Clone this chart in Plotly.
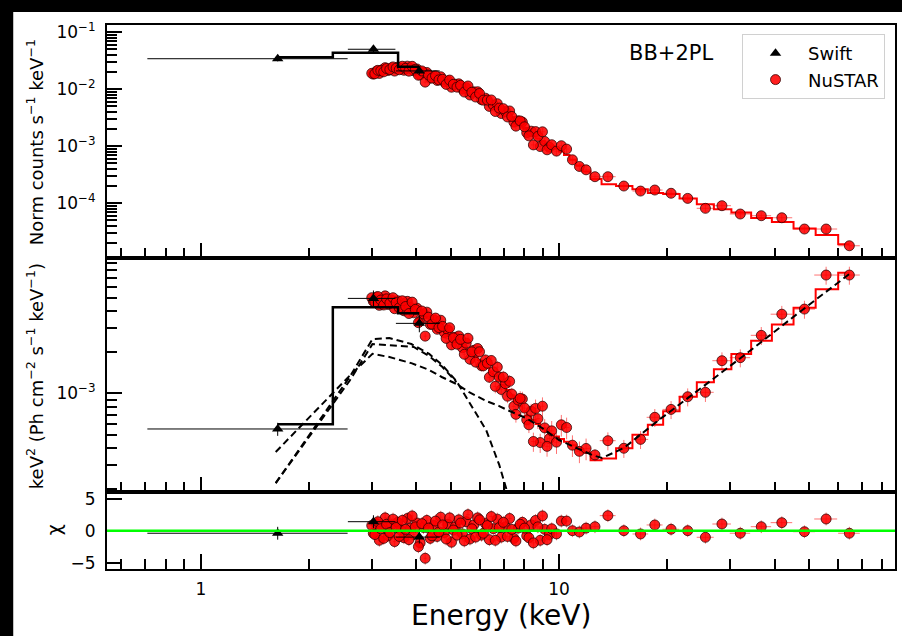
import math
import plotly.graph_objects as go
from plotly.subplots import make_subplots

# ---------------- Swift / XRT ----------------
swift_e = [1.639, 3.033, 4.074]
swift_de = [0.93, 0.46, 0.57]
swift_cts = [0.0344, 0.0504, 0.0210]
swift_cts_err = [0.0035, 0.0060, 0.0030]
swift_cts_mod = [0.0364, 0.0438, 0.0249]
swift_unf = [5.49e-4, 4.93e-3, 3.24e-3]
swift_unf_err = [6.0e-5, 7.0e-4, 4.5e-4]
swift_unf_mod = [5.94e-4, 4.25e-3, 3.84e-3]
swift_chi = [-0.4, 1.4, -1.0]

# ---------------- NuSTAR FPMA (with model) ----------------
nu_e = [3.00, 3.06, 3.12, 3.18, 3.24, 3.30, 3.37, 3.44, 3.51, 3.58,
        3.65, 3.73, 3.81, 3.89, 3.97, 4.05, 4.14, 4.23, 4.32, 4.42,
        4.52, 4.62, 4.73, 4.84, 4.95, 5.07, 5.19, 5.31, 5.44, 5.57,
        5.71, 5.85, 6.00, 6.15, 6.31, 6.47, 6.64, 6.81, 6.99, 7.18,
        7.38, 7.58, 7.79, 8.01, 8.24, 8.48, 8.73, 8.99, 9.26, 9.54,
        9.84, 10.15, 10.5, 10.9, 11.4, 11.9,
        12.6, 13.69, 15.17, 16.89, 18.51, 20.55, 22.87, 25.63, 28.5, 32.07,
        36.7, 41.88, 48.44, 55.68, 64.66]
nu_de = [0.03, 0.03, 0.03, 0.03, 0.03, 0.03, 0.035, 0.035, 0.035, 0.035,
         0.04, 0.04, 0.04, 0.04, 0.04, 0.045, 0.045, 0.045, 0.045, 0.05,
         0.05, 0.05, 0.055, 0.055, 0.055, 0.06, 0.06, 0.065, 0.065, 0.07,
         0.07, 0.075, 0.075, 0.08, 0.08, 0.085, 0.085, 0.09, 0.09, 0.1,
         0.1, 0.105, 0.105, 0.115, 0.115, 0.125, 0.125, 0.135, 0.135, 0.15,
         0.15, 0.17, 0.19, 0.22, 0.25, 0.3,
         0.35, 0.7, 0.8, 0.85, 0.95, 1.1, 1.3, 1.4, 1.7, 2.1,
         2.4, 2.9, 3.4, 4.1, 4.5]
nu_relerr = [
    0.05, 0.05, 0.05, 0.05, 0.05, 0.05, 0.05, 0.05, 0.05, 0.05,
    0.06, 0.06, 0.06, 0.06, 0.06, 0.06, 0.06, 0.06, 0.06, 0.06,
    0.07, 0.07, 0.07, 0.07, 0.07, 0.07, 0.07, 0.07, 0.07, 0.09,
    0.09, 0.09, 0.09, 0.09, 0.09, 0.09, 0.11, 0.11, 0.11, 0.11,
    0.11, 0.13, 0.13, 0.13, 0.13, 0.16, 0.16, 0.16, 0.16, 0.18,
    0.18, 0.18, 0.18, 0.18, 0.18, 0.18,
    0.10, 0.15, 0.15, 0.15, 0.15, 0.15, 0.15, 0.15, 0.15, 0.15,
    0.15, 0.15, 0.15, 0.15, 0.15]

# normalised counts s^-1 keV^-1
nu_cts = [0.01906, 0.01874, 0.02152, 0.02125, 0.02025, 0.02317, 0.02218, 0.02474, 0.02345, 0.02203,
          0.02539, 0.02335, 0.02079, 0.02532, 0.02241, 0.01765, 0.02101, 0.01336, 0.01789, 0.01571,
          0.01730, 0.01464, 0.01498, 0.01220, 0.01452, 0.01222, 0.01091, 0.01175, 0.00895, 0.01144,
          0.00888, 0.00732, 0.00845, 0.00644, 0.00647, 0.00651, 0.00408, 0.00468, 0.00458, 0.00327,
          0.00334, 0.002257, 0.002791, 0.00220, 0.001525, 0.001058, 0.001496, 0.001797, 0.000868, 0.001067,
          0.000823, 0.001025, 0.000894, 0.000580, 0.000443, 0.000387,
          2.93e-4, 2.93e-4, 2.01e-4, 1.64e-4, 1.71e-4, 1.50e-4, 1.22e-4, 8.17e-5, 9.08e-5, 6.49e-5,
          6.06e-5, 5.58e-5, 3.54e-5, 3.54e-5, 1.80e-5]
nu_cts_mod = [0.01833, 0.01932, 0.02011, 0.02094, 0.02154, 0.02207, 0.02252, 0.02270, 0.02288, 0.02307,
              0.02317, 0.02307, 0.02270, 0.02225, 0.02163, 0.02077, 0.01971, 0.01855, 0.01747, 0.01650,
              0.01566, 0.01485, 0.01409, 0.01342, 0.01274, 0.01214, 0.01147, 0.01084, 0.01008, 0.00934,
              0.00865, 0.00804, 0.00733, 0.00668, 0.00604, 0.00543, 0.00489, 0.00444, 0.00401, 0.00363,
              0.00327, 0.00285, 0.00247, 0.00209, 0.00178, 0.00152, 0.001365, 0.001239, 0.001119, 0.001012,
              0.000904, 0.000807, 0.000704, 0.000580, 0.000460, 0.000361,
              2.68e-4, 2.17e-4, 2.01e-4, 1.77e-4, 1.51e-4, 1.45e-4, 1.22e-4, 9.66e-5, 7.85e-5, 6.90e-5,
              5.54e-5, 4.69e-5, 3.63e-5, 2.79e-5, 1.91e-5]

# unfolded keV^2 (photons cm^-2 s^-1 keV^-1)
nu_unf = [4.989e-3, 4.637e-3, 5.090e-3, 4.796e-3, 4.411e-3, 4.895e-3, 4.546e-3, 4.988e-3, 4.597e-3, 4.212e-3,
          4.738e-3, 4.302e-3, 3.822e-3, 4.631e-3, 4.097e-3, 3.278e-3, 3.988e-3, 2.614e-3, 3.594e-3, 3.193e-3,
          3.542e-3, 3.015e-3, 3.079e-3, 2.517e-3, 3.012e-3, 2.539e-3, 2.283e-3, 2.478e-3, 1.927e-3, 2.524e-3,
          2.008e-3, 1.689e-3, 2.011e-3, 1.586e-3, 1.657e-3, 1.737e-3, 1.124e-3, 1.315e-3, 1.314e-3, 9.52e-4,
          9.88e-4, 7.02e-4, 9.18e-4, 7.80e-4, 5.89e-4, 4.45e-4, 6.53e-4, 8.05e-4, 4.10e-4, 5.32e-4,
          4.40e-4, 5.89e-4, 5.63e-4, 4.18e-4, 3.77e-4, 3.96e-4,
          3.55e-4, 4.51e-4, 3.97e-4, 4.61e-4, 6.68e-4, 7.63e-4, 9.44e-4, 1.017e-3, 1.73e-3, 1.82e-3,
          2.65e-3, 3.78e-3, 4.12e-3, 7.30e-3, 7.30e-3]
nu_unf_mod = [4.797e-3, 4.780e-3, 4.757e-3, 4.725e-3, 4.693e-3, 4.662e-3, 4.615e-3, 4.576e-3, 4.485e-3, 4.410e-3,
              4.323e-3, 4.251e-3, 4.173e-3, 4.069e-3, 3.955e-3, 3.856e-3, 3.741e-3, 3.630e-3, 3.510e-3, 3.354e-3,
              3.205e-3, 3.058e-3, 2.897e-3, 2.769e-3, 2.642e-3, 2.521e-3, 2.401e-3, 2.286e-3, 2.170e-3, 2.060e-3,
              1.955e-3, 1.856e-3, 1.744e-3, 1.645e-3, 1.546e-3, 1.450e-3, 1.346e-3, 1.246e-3, 1.150e-3, 1.057e-3,
              9.67e-4, 8.86e-4, 8.12e-4, 7.41e-4, 6.87e-4, 6.39e-4, 5.96e-4, 5.55e-4, 5.29e-4, 5.05e-4,
              4.84e-4, 4.64e-4, 4.43e-4, 4.18e-4, 3.91e-4, 3.69e-4,
              3.25e-4, 3.34e-4, 3.97e-4, 4.99e-4, 5.89e-4, 7.39e-4, 9.44e-4, 1.202e-3, 1.497e-3, 1.936e-3,
              2.42e-3, 3.18e-3, 4.22e-3, 5.75e-3, 7.60e-3]

nu_chi = [0.8, -0.6, 1.4, 0.3, -1.2, 1.0, -0.3, 1.8, 0.5, -0.9,
          1.6, 0.2, -1.4, 2.3, 0.6, -2.5, 1.1, -4.3, 0.4, -0.8,
          1.5, -0.2, 0.9, -1.3, 2.0, 0.1, -0.7, 1.2, -1.6, 2.5,
          0.3, -1.0, 1.7, -0.4, 0.8, 2.2, -1.5, 0.5, 1.3, -0.9,
          0.2, -1.6, 1.0, 0.4, -1.1, -1.9, 0.6, 2.3, -1.4, 0.3,
          -0.5, 1.5, 1.5, 0.0, -0.2, 0.4,
          0.62, 2.34, 0.0, -0.51, 0.89, 0.22, 0.0, -1.03, 1.04, -0.4,
          0.62, 1.25, -0.16, 1.82, -0.4]

# ---------------- NuSTAR FPMB (soft band) ----------------
nb_e = [3.03, 3.09, 3.15, 3.21, 3.27, 3.335, 3.405, 3.475, 3.545, 3.615,
        3.69, 3.77, 3.85, 3.93, 4.01, 4.095, 4.185, 4.275, 4.37, 4.47,
        4.57, 4.675, 4.785, 4.895, 5.01, 5.13, 5.25, 5.375, 5.505, 5.64,
        5.78, 5.925, 6.075, 6.23, 6.39, 6.555, 6.725, 6.9, 7.085, 7.28,
        7.48, 7.685, 7.9, 8.125, 8.36, 8.6, 8.86, 9.12, 9.4]
nb_de = [0.03, 0.03, 0.03, 0.03, 0.03, 0.035, 0.035, 0.035, 0.035, 0.035,
         0.04, 0.04, 0.04, 0.04, 0.04, 0.045, 0.045, 0.045, 0.05, 0.05,
         0.05, 0.055, 0.055, 0.055, 0.06, 0.06, 0.06, 0.065, 0.065, 0.07,
         0.07, 0.075, 0.075, 0.08, 0.08, 0.085, 0.085, 0.09, 0.095, 0.1,
         0.1, 0.105, 0.11, 0.115, 0.12, 0.125, 0.13, 0.135, 0.14]
nb_relerr = [0.05, 0.05, 0.05, 0.05, 0.05, 0.05, 0.05, 0.05, 0.05, 0.05,
             0.06, 0.06, 0.06, 0.06, 0.06, 0.06, 0.06, 0.06, 0.06, 0.06,
             0.07, 0.07, 0.07, 0.07, 0.07, 0.07, 0.07, 0.07, 0.07, 0.09,
             0.09, 0.09, 0.09, 0.09, 0.09, 0.09, 0.11, 0.11, 0.11, 0.11,
             0.11, 0.13, 0.13, 0.13, 0.13, 0.16, 0.16, 0.16, 0.16]
nb_cts = [0.01845, 0.0208, 0.01899, 0.02198, 0.02399, 0.0214, 0.02363, 0.02085, 0.02447, 0.02324,
          0.02159, 0.02549, 0.02301, 0.02115, 0.02273, 0.01793, 0.0197, 0.01974, 0.01576, 0.01685,
          0.01429, 0.0166, 0.01347, 0.0140, 0.01087, 0.0123, 0.01248, 0.01009, 0.01066, 0.007943,
          0.009021, 0.009068, 0.006564, 0.00699, 0.005012, 0.005299, 0.005589, 0.00376, 0.004072, 0.004171,
          0.002656, 0.002798, 0.002665, 0.001734, 0.001843, 0.001812, 0.00099, 0.001217, 0.000963]
nb_unf = [4.693e-3, 5.031e-3, 4.386e-3, 4.874e-3, 5.145e-3, 4.453e-3, 4.802e-3, 4.145e-3, 4.737e-3, 4.388e-3,
          4.004e-3, 4.692e-3, 4.220e-3, 3.868e-3, 4.187e-3, 3.365e-3, 3.796e-3, 3.913e-3, 3.185e-3, 3.437e-3,
          2.934e-3, 3.415e-3, 2.774e-3, 2.895e-3, 2.256e-3, 2.564e-3, 2.622e-3, 2.150e-3, 2.322e-3, 1.773e-3,
          2.060e-3, 2.124e-3, 1.588e-3, 1.753e-3, 1.309e-3, 1.436e-3, 1.553e-3, 1.066e-3, 1.176e-3, 1.223e-3,
          8.04e-4, 8.93e-4, 9.08e-4, 6.40e-4, 7.41e-4, 7.76e-4, 4.37e-4, 5.59e-4, 4.67e-4]
nb_chi = [-0.4, 1.1, -1.5, 0.7, 2.0, -0.8, 0.9, -1.7, 1.3, 0.1,
          -1.1, 1.9, 0.4, -0.6, 1.2, -1.9, 0.5, 1.6, -1.2, 0.8,
          -0.9, 2.1, -0.3, 1.0, -1.8, 0.6, 1.7, -0.5, 1.4, -1.3,
          0.9, 2.0, -0.7, 1.1, -1.4, 0.3, 1.8, -1.0, 0.6, 1.9,
          -1.2, 0.4, 1.3, -0.8, 0.9, 1.6, -1.5, 0.2, -0.6]

# ---------------- model components (unfolded) ----------------
bb_e = [1.618, 1.887, 2.215, 2.60, 3.014, 3.36, 3.87, 4.34, 4.72, 5.17, 5.61, 6.26, 6.81, 7.17, 7.74]
bb_val = [2.21e-4, 3.92e-4, 7.18e-4, 1.31e-3, 2.49e-3, 2.53e-3, 2.29e-3, 1.94e-3, 1.61e-3, 1.23e-3,
          8.64e-4, 5.39e-4, 3.00e-4, 1.90e-4, 7.8e-5]
cut_e = [1.618, 1.887, 2.215, 2.60, 3.014, 3.40, 3.93, 4.34, 4.72, 5.17]
cut_val = [2.21e-4, 3.85e-4, 6.83e-4, 1.23e-3, 2.29e-3, 2.25e-3, 2.18e-3, 1.87e-3, 1.56e-3, 1.21e-3]
pl_e = [1.618, 1.887, 2.215, 2.60, 3.014, 3.36, 3.87, 4.34, 4.72, 5.17, 5.61, 6.26, 6.81,
        7.17, 8.09, 8.97, 10.0, 11.15, 12.36, 13.18, 15.17, 19.0, 24.55, 33.8, 46.6, 64.66]
pl_val = [3.73e-4, 5.67e-4, 8.79e-4, 1.34e-3, 1.94e-3, 1.84e-3, 1.66e-3, 1.48e-3, 1.31e-3, 1.17e-3,
          1.02e-3, 8.79e-4, 8.07e-4, 7.55e-4, 6.60e-4, 5.58e-4, 4.56e-4, 3.99e-4, 3.55e-4, 3.37e-4,
          3.99e-4, 6.38e-4, 1.057e-3, 2.00e-3, 3.86e-3, 7.43e-3]

FONT = "DejaVu Sans"
RED = "#ff0000"


def steps_mid(x, y):
    """Step line changing level half-way between neighbouring bins."""
    xs, ys = [x[0]], [y[0]]
    for i in range(1, len(x)):
        m = 0.5 * (x[i - 1] + x[i])
        xs += [m, m]
        ys += [y[i - 1], y[i]]
    xs.append(x[-1])
    ys.append(y[-1])
    return xs, ys


def rel_err(vals, rel):
    return [v * r for v, r in zip(vals, rel)]


fig = make_subplots(rows=3, cols=1, shared_xaxes=True, vertical_spacing=0)

nu_marker = dict(symbol="circle", size=10, color="rgba(255,0,0,0.88)",
                 line=dict(color="rgba(40,0,0,0.75)", width=1))
sw_marker = dict(symbol="triangle-up", size=10, color="black")
ERR_RED = "rgba(255,0,0,0.55)"


def xerr(arr, color):
    return dict(type="data", array=arr, color=color, thickness=1, width=0)


def yerr(arr, color):
    return dict(type="data", array=arr, color=color, thickness=1, width=0)


panels = [
    (1, nu_cts, nu_cts_mod, nb_cts, swift_cts, swift_cts_err, swift_cts_mod),
    (2, nu_unf, nu_unf_mod, nb_unf, swift_unf, swift_unf_err, swift_unf_mod),
]
for row, ny, nmod, by, sy, syerr, smod in panels:
    sx, sy_step = steps_mid(nu_e, nmod)
    fig.add_trace(go.Scatter(x=sx, y=sy_step, mode="lines", line=dict(color=RED, width=2),
                             showlegend=False, hoverinfo="skip"), row=row, col=1)
    fig.add_trace(go.Scatter(x=nb_e, y=by, mode="markers", marker=nu_marker,
                             error_x=xerr(nb_de, ERR_RED), error_y=yerr(rel_err(by, nb_relerr), ERR_RED),
                             showlegend=False), row=row, col=1)
    fig.add_trace(go.Scatter(x=nu_e, y=ny, mode="markers", marker=nu_marker,
                             error_x=xerr(nu_de, ERR_RED), error_y=yerr(rel_err(ny, nu_relerr), ERR_RED),
                             showlegend=False), row=row, col=1)
    if row == 2:
        for ce, cv in ((bb_e, bb_val), (cut_e, cut_val), (pl_e, pl_val)):
            fig.add_trace(go.Scatter(x=ce, y=cv, mode="lines",
                                     line=dict(color="black", width=2, dash="7px,4px"),
                                     showlegend=False, hoverinfo="skip"), row=row, col=1)
    wx, wy = steps_mid(swift_e, smod)
    fig.add_trace(go.Scatter(x=wx, y=wy, mode="lines", line=dict(color="black", width=2.5),
                             showlegend=False, hoverinfo="skip"), row=row, col=1)
    fig.add_trace(go.Scatter(x=swift_e, y=sy, mode="markers", marker=sw_marker, name="Swift",
                             error_x=xerr(swift_de, "black"), error_y=yerr(syerr, "black"),
                             showlegend=(row == 1)), row=row, col=1)
    if row == 1:
        fig.add_trace(go.Scatter(x=[None], y=[None], mode="markers", marker=nu_marker,
                                 name="NuSTAR", showlegend=True), row=1, col=1)

# residuals
for ex, ey, ed in ((nb_e, nb_chi, nb_de), (nu_e, nu_chi, nu_de)):
    fig.add_trace(go.Scatter(x=ex, y=ey, mode="markers", marker=nu_marker, showlegend=False,
                             error_x=xerr(ed, ERR_RED),
                             error_y=dict(type="constant", value=1, color=ERR_RED, thickness=1, width=0)),
                  row=3, col=1)
fig.add_trace(go.Scatter(x=swift_e, y=swift_chi, mode="markers", marker=sw_marker, showlegend=False,
                         error_x=xerr(swift_de, "black"),
                         error_y=dict(type="constant", value=1, color="black", thickness=1, width=0)),
              row=3, col=1)
fig.add_hline(y=0, line=dict(color="#00ff00", width=2.5), row=3, col=1)

# ---------------- axes ----------------
axis_style = dict(showline=True, linecolor="black", linewidth=2, mirror=True,
                  ticks="inside", ticklen=15, tickwidth=1.5, tickcolor="black",
                  showgrid=False, zeroline=False,
                  tickfont=dict(family=FONT, size=17, color="black"))
x_minor = [0.6, 0.7, 0.8, 0.9] + list(range(2, 10)) + list(range(20, 90, 10))
for i, name in enumerate(["xaxis", "xaxis2", "xaxis3"]):
    fig.layout[name].update(type="log", range=[math.log10(0.547), math.log10(86.7)],
                            tickvals=[1, 10], ticktext=["1", "10"],
                            showticklabels=(i == 2), ticklabelstandoff=4,
                            minor=dict(ticks="inside", ticklen=10, tickwidth=1.5,
                                       tickcolor="black", tickvals=x_minor, showgrid=False),
                            **axis_style)

y1_minor = [m * 10.0 ** e for e in range(-5, -1) for m in range(2, 10)]
fig.layout.yaxis.update(type="log", range=[-4.965, -0.872], domain=[0.5711, 1.0],
                        tickvals=[1e-4, 1e-3, 1e-2, 1e-1],
                        ticktext=["10<sup>−4</sup>", "10<sup>−3</sup>", "10<sup>−2</sup>", "10<sup>−1</sup>"],
                        minor=dict(ticks="inside", ticklen=10, tickwidth=1.5, tickcolor="black",
                                   tickvals=y1_minor, showgrid=False),
                        ticklabelstandoff=6, **axis_style)
y2_minor = [m * 10.0 ** e for e in (-4, -3) for m in range(2, 10)]
fig.layout.yaxis2.update(type="log", range=[-3.7226, -2.0146], domain=[0.141, 0.5711],
                         tickvals=[1e-3], ticktext=["10<sup>−3</sup>"],
                         minor=dict(ticks="inside", ticklen=10, tickwidth=1.5, tickcolor="black",
                                    tickvals=y2_minor, showgrid=False),
                         ticklabelstandoff=6, **axis_style)
fig.layout.yaxis3.update(range=[-5.97, 5.98], domain=[0.0, 0.141],
                         tickvals=[-5, 0, 5], ticktext=["−5", "0", "5"],
                         ticklabelstandoff=6, **axis_style)


# ---------------- labels ----------------
def ptx(px):
    return (px - 107) / 790.0


def pty(py):
    return (569 - py) / 544.0


title_font = dict(family=FONT, size=18, color="black")
fig.add_annotation(x=ptx(35), y=pty(142), xref="paper", yref="paper", textangle=-90,
                   text="Norm counts s<sup>−1</sup> keV<sup>−1</sup>", showarrow=False,
                   font=title_font, xanchor="center", yanchor="middle")
fig.add_annotation(x=ptx(35), y=pty(376), xref="paper", yref="paper", textangle=-90,
                   text="keV<sup>2</sup> (Ph cm<sup>−2</sup> s<sup>−1</sup> keV<sup>−1</sup>)",
                   showarrow=False, font=title_font, xanchor="center", yanchor="middle")
fig.add_annotation(x=ptx(54), y=pty(530), xref="paper", yref="paper", textangle=-90,
                   text="χ", showarrow=False, font=dict(family=FONT, size=19, color="black"),
                   xanchor="center", yanchor="middle")
fig.add_annotation(x=ptx(502), y=pty(615), xref="paper", yref="paper",
                   text="Energy (keV)", showarrow=False,
                   font=dict(family=FONT, size=28, color="black"),
                   xanchor="center", yanchor="middle")
fig.add_annotation(x=ptx(672), y=pty(53), xref="paper", yref="paper",
                   text="BB+2PL", showarrow=False,
                   font=dict(family=FONT, size=21, color="black"),
                   xanchor="center", yanchor="middle")

# white page area on a dark surround
fig.add_shape(type="rect", xref="paper", yref="paper", layer="below",
              x0=ptx(13), x1=ptx(910), y0=pty(645), y1=pty(12),
              fillcolor="white", line=dict(width=0))

fig.update_layout(
    width=902, height=636,
    margin=dict(l=107, r=5, t=25, b=67),
    paper_bgcolor="black", plot_bgcolor="white",
    font=dict(family=FONT, color="black"),
    legend=dict(x=ptx(887), y=pty(34), xanchor="right", yanchor="top",
                bgcolor="rgba(255,255,255,0.9)", bordercolor="#d0d0d0", borderwidth=1,
                font=dict(family=FONT, size=18, color="black"), tracegroupgap=0,
                itemwidth=55),
)

fig.write_html("out.html")
